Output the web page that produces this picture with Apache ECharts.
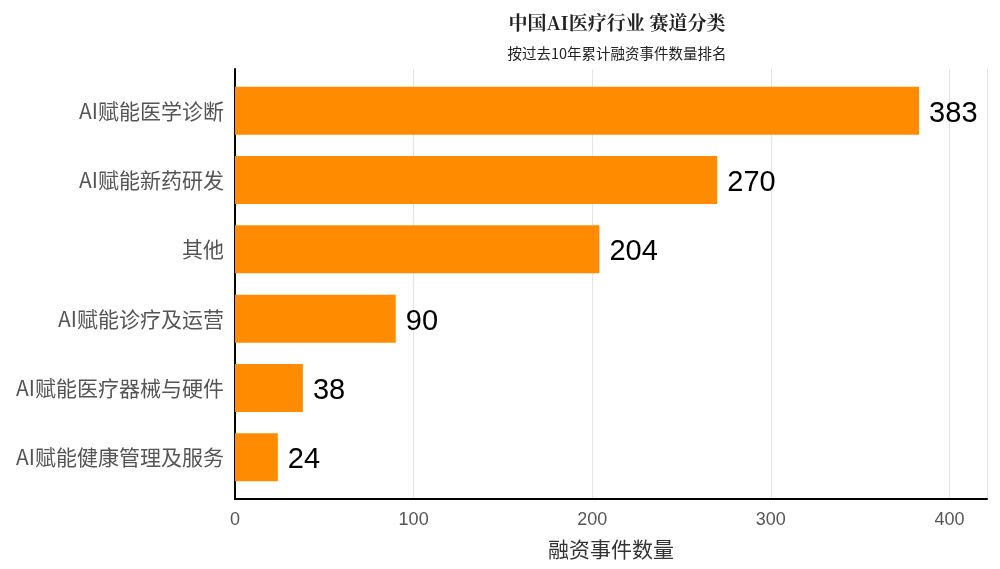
<!DOCTYPE html>
<html><head><meta charset="utf-8">
<script src="https://cdn.jsdelivr.net/npm/echarts@6/dist/echarts.min.js"></script>
<style>html,body{margin:0;padding:0;background:#fff}#c{width:1000px;height:569px}</style>
</head><body><div id="c"></div>
<script>
const categories = ['AI赋能医学诊断','AI赋能新药研发','其他','AI赋能诊疗及运营','AI赋能医疗器械与硬件','AI赋能健康管理及服务'];
const values = [383, 270, 204, 90, 38, 24];
const titleText = '中国AI医疗行业 赛道分类';
const subtitleText = '按过去10年累计融资事件数量排名';
const axisName = '融资事件数量';

const font = '"Noto Sans CJK SC", "Liberation Sans", sans-serif';
const chart = echarts.init(document.getElementById('c'), null, {renderer:'canvas'});
chart.setOption({
  backgroundColor:'#fff',
  animation:false,
  title:[
    {text:titleText, left:612, top:8, textAlign:'center',
     textStyle:{fontSize:19, fontWeight:'bold', color:'#222', fontFamily:'"Noto Serif CJK SC","Noto Sans CJK SC",serif'}},
    {text:subtitleText, left:612, top:41, textAlign:'center',
     textStyle:{fontSize:14.5, fontWeight:'normal', color:'#222', fontFamily:font}}
  ],
  grid:[
    {left:235, right:13, top:76, bottom:77, containLabel:false},
    {left:235, right:13, top:69, bottom:70, containLabel:false}
  ],
  xAxis:[
    {type:'value', gridIndex:0, min:0, max:421, show:false},
    {type:'value', gridIndex:1, min:0, max:421, interval:100,
     axisLine:{show:true, lineStyle:{color:'#000', width:2}},
     axisTick:{show:false},
     axisLabel:{color:'#555', fontSize:18, margin:12, fontFamily:'"Liberation Sans",Arial,sans-serif', showMaxLabel:false},
     splitLine:{show:true, lineStyle:{color:'#e3e3e3', width:1}},
     name:axisName, nameLocation:'middle', nameGap:40,
     nameTextStyle:{fontSize:21, color:'#333', fontFamily:font}}
  ],
  yAxis:[
    {type:'category', gridIndex:0, data:categories, inverse:true,
     axisLine:{show:false}, axisTick:{show:false},
     axisLabel:{color:'#555', fontSize:21, margin:11, fontFamily:font, padding:[3,0,0,0]},
     splitLine:{show:false}},
    {type:'value', gridIndex:1, min:0, max:1,
     axisLine:{show:true, lineStyle:{color:'#000', width:2}},
     axisTick:{show:false}, axisLabel:{show:false}, splitLine:{show:false}}
  ],
  series:[{
    type:'bar', xAxisIndex:0, yAxisIndex:0, data:values,
    barWidth:48,
    itemStyle:{color:'#FF8C00'},
    label:{show:true, position:'right', distance:10, offset:[0,3], color:'#000', fontSize:29,
      fontFamily:'"Liberation Sans", Arial, sans-serif'}
  }]
});
</script></body></html>
